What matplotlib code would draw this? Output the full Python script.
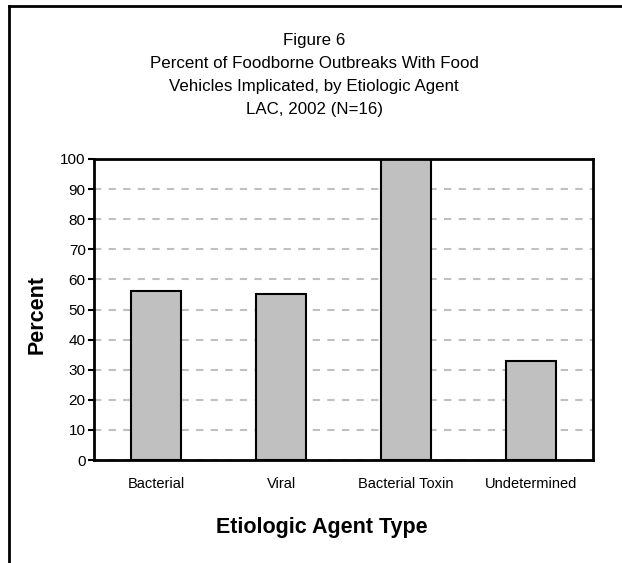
import matplotlib.pyplot as plt
from matplotlib.lines import Line2D

categories = ["Bacterial", "Viral", "Bacterial Toxin", "Undetermined"]
percent = [56, 55, 100, 33]
yticks = list(range(0, 101, 10))
title_lines = [
    "Figure 6",
    "Percent of Foodborne Outbreaks With Food",
    "Vehicles Implicated, by Etiologic Agent",
    "LAC, 2002 (N=16)",
]

plt.rcParams['font.family'] = ['Liberation Sans', 'DejaVu Sans']

W, H = 622, 563
fig = plt.figure(figsize=(W / 100, H / 100), dpi=100)
ax = fig.add_axes([94 / W, 1 - 460 / H, (593 - 94) / W, (460 - 159) / H])

x = list(range(len(categories)))
ax.bar(x, percent, width=0.4, color="#c0c0c0", edgecolor="black", linewidth=1.5, zorder=3)

ax.set_xlim(-0.5, len(categories) - 0.5)
ax.set_ylim(0, 100)
ax.set_yticks(yticks)
ax.set_yticklabels([str(v) for v in yticks], fontsize=11)
ax.set_xticks(x)
ax.set_xticklabels(categories, fontsize=10.5)
ax.tick_params(axis="x", length=0, pad=12)
ax.tick_params(axis="y", direction="out", length=4, width=1.5, pad=2)

ax.yaxis.grid(True, linestyle=(0, (3.5, 3.5)), color="#c0c0c0", linewidth=1.5, zorder=0)
for s in ax.spines.values():
    s.set_linewidth(2)
    s.set_zorder(4)

# title, line by line
for i, line in enumerate(title_lines):
    fig.text(0.505, 1 - (40 + 23.3 * i) / H, line, ha="center", va="center", fontsize=12.2)

fig.text(37 / W, 1 - 314 / H, "Percent", rotation=90, ha="center", va="center",
         fontsize=15.5, fontweight="bold")
fig.text(322 / W, 1 - 527 / H, "Etiologic Agent Type", ha="center", va="center",
         fontsize=15.5, fontweight="bold")

# figure frame (top and left edges only)
fig.add_artist(Line2D([8.5 / W, 1], [1 - 5.5 / H, 1 - 5.5 / H], transform=fig.transFigure,
                      color="black", linewidth=2))
fig.add_artist(Line2D([8.5 / W, 8.5 / W], [0, 1 - 5.5 / H], transform=fig.transFigure,
                      color="black", linewidth=2))

fig.savefig("out.png", dpi=100)
